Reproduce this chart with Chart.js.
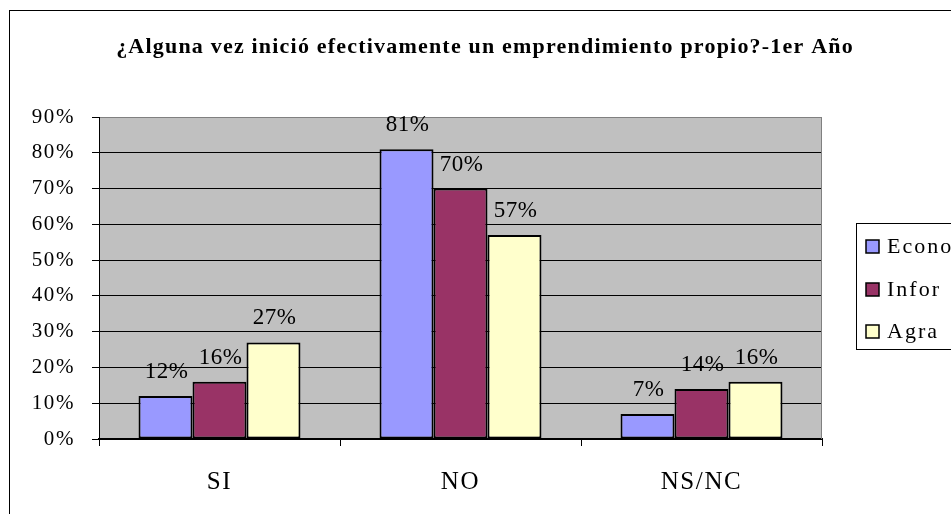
<!DOCTYPE html>
<html>
<head>
<meta charset="utf-8">
<script src="https://cdn.jsdelivr.net/npm/chart.js@4.4.1/dist/chart.umd.min.js"></script>
<style>
  html, body { margin: 0; padding: 0; background: #fff; overflow: hidden; }
  canvas { display: block; }
</style>
</head>
<body>
<canvas id="chart" width="951" height="514"></canvas>
<script>
const chartTitle = '¿Alguna vez inició efectivamente un emprendimiento propio?-1er Año';
const categories = ['SI', 'NO', 'NS/NC'];
const seriesNames = ['Econo', 'Infor', 'Agra'];
const econoValues = [12, 81, 7];
const inforValues = [16, 70, 14];
const agraValues = [27, 57, 16];
const yTicks = [0, 10, 20, 30, 40, 50, 60, 70, 80, 90];

const serifFont = "'Liberation Serif', 'Times New Roman', serif";
const barColors = ['#9999FF', '#993366', '#FFFFCC'];

// frame, title, plot background
const backdrop = {
  id: 'backdrop',
  beforeDraw(chart) {
    const { ctx, chartArea } = chart;
    ctx.save();
    ctx.fillStyle = '#fff';
    ctx.fillRect(0, 0, chart.width, chart.height);
    ctx.strokeStyle = '#000';
    ctx.lineWidth = 1;
    ctx.strokeRect(9.5, 10.5, 1200, 1000);
    ctx.fillStyle = '#C0C0C0';
    ctx.fillRect(chartArea.left, chartArea.top,
      chartArea.right - chartArea.left, chartArea.bottom - chartArea.top);

    ctx.letterSpacing = '1.2px';
    ctx.font = 'bold 22px ' + serifFont;
    ctx.fillStyle = '#000';
    ctx.textAlign = 'center';
    ctx.textBaseline = 'middle';
    ctx.fillText(chartTitle, 485, 47);
    ctx.restore();
    // axis labels pick this up
    ctx.letterSpacing = '1.6px';
  },
  beforeDatasetsDraw(chart) {
    const { ctx, chartArea } = chart;
    ctx.save();
    ctx.strokeStyle = '#808080';
    ctx.lineWidth = 1;
    ctx.beginPath();
    ctx.moveTo(chartArea.right - 0.5, chartArea.top);
    ctx.lineTo(chartArea.right - 0.5, chartArea.bottom);
    ctx.stroke();
    ctx.restore();
  }
};

// percent labels above each bar
const valueLabels = {
  id: 'valueLabels',
  afterDatasetsDraw(chart) {
    const { ctx } = chart;
    ctx.save();
    ctx.letterSpacing = '0.5px';
    ctx.font = '23px ' + serifFont;
    ctx.fillStyle = '#000';
    ctx.textAlign = 'center';
    ctx.textBaseline = 'middle';
    chart.data.datasets.forEach((ds, i) => {
      chart.getDatasetMeta(i).data.forEach((bar, j) => {
        ctx.fillText(ds.data[j] + '%', bar.x + 1, bar.y - 24);
      });
    });
    ctx.restore();
  }
};

// boxed legend on the right
const boxLegend = {
  id: 'boxLegend',
  afterDraw(chart) {
    const { ctx } = chart;
    const rows = [246, 289, 331];
    ctx.save();
    ctx.fillStyle = '#fff';
    ctx.fillRect(856, 223, 200, 126);
    ctx.strokeStyle = '#000';
    ctx.lineWidth = 1;
    ctx.strokeRect(856.5, 223.5, 200, 126);
    ctx.letterSpacing = '2px';
    ctx.font = '22px ' + serifFont;
    ctx.textBaseline = 'middle';
    chart.data.datasets.forEach((ds, i) => {
      const y = rows[i];
      ctx.fillStyle = ds.backgroundColor;
      ctx.fillRect(866, y - 6, 13, 13);
      ctx.lineWidth = 1.5;
      ctx.strokeStyle = '#000';
      ctx.strokeRect(866, y - 6, 13, 13);
      ctx.fillStyle = '#000';
      ctx.fillText(ds.label, 887, y + 1);
    });
    ctx.restore();
  }
};

new Chart(document.getElementById('chart').getContext('2d'), {
  type: 'bar',
  data: {
    labels: categories,
    datasets: [
      { label: seriesNames[0], data: econoValues, backgroundColor: barColors[0] },
      { label: seriesNames[1], data: inforValues, backgroundColor: barColors[1] },
      { label: seriesNames[2], data: agraValues, backgroundColor: barColors[2] },
    ].map((ds) => ({
      ...ds,
      borderColor: '#000',
      borderWidth: 2,
      borderSkipped: false,
      categoryPercentage: 0.672,
      barPercentage: 1,
    })),
  },
  options: {
    responsive: false,
    animation: false,
    layout: { padding: { top: 117, right: 129, bottom: 0, left: 0 } },
    plugins: {
      legend: { display: false },
      tooltip: { enabled: false },
      title: { display: false },
    },
    scales: {
      x: {
        grid: {
          offset: true,
          drawOnChartArea: false,
          tickLength: 7,
          tickColor: '#000',
        },
        border: { color: '#000', width: 2 },
        ticks: {
          color: '#000',
          padding: 21,
          font: { family: serifFont, size: 25 },
        },
        afterFit(scale) { scale.height = 75; },
      },
      y: {
        min: 0,
        max: 90,
        afterBuildTicks(scale) {
          scale.ticks = yTicks.map((v) => ({ value: v }));
        },
        grid: {
          color: (c) => (c.tick && c.tick.value === 90 ? '#808080' : '#000'),
          lineWidth: 1,
          tickLength: 7,
          tickColor: '#000',
        },
        border: { color: '#000', width: 1 },
        ticks: {
          color: '#000',
          padding: 17,
          font: { family: serifFont, size: 21 },
          callback: (v) => v + '%',
        },
        afterFit(scale) { scale.width = 99; },
      },
    },
  },
  plugins: [backdrop, valueLabels, boxLegend],
});
</script>
</body>
</html>
